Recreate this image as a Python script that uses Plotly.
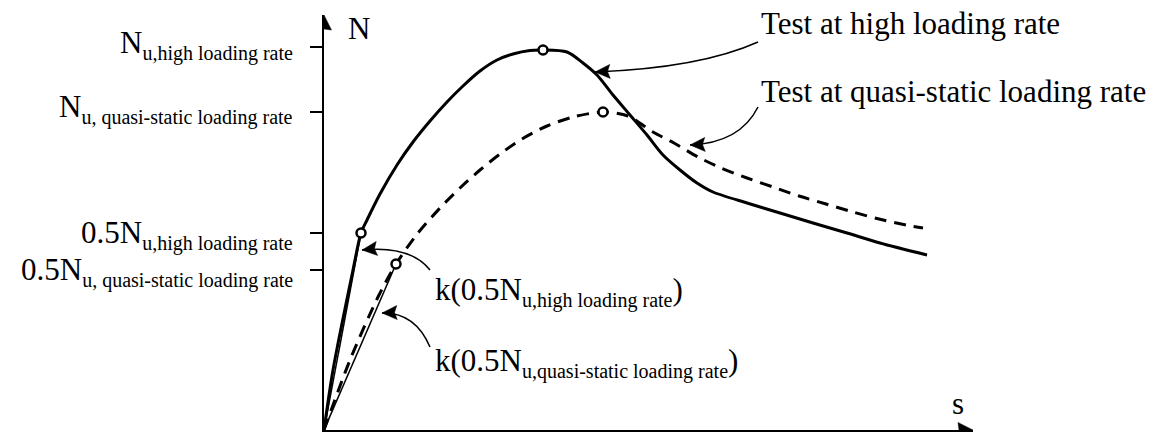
import math
import plotly.graph_objects as go

# ---- data (schematic units) ----
s_high = [0, 9, 29, 37, 43, 56, 73, 89, 106, 123, 139, 156, 173, 189, 206, 219, 243, 259, 273,
          289, 306, 323, 339, 356, 373, 389, 423, 456, 489, 523, 556, 603]
N_high = [0, 60, 160, 197, 210, 236, 265, 288, 309, 328, 344, 359, 370, 376, 379.5, 380, 378, 367, 355,
          335, 315, 295, 275, 260, 247, 238, 227, 217, 207, 197, 187, 175]

s_quasi = [0, 26, 54, 72, 94, 116, 136, 156, 176, 198, 223, 249, 279, 304, 329, 350, 374,
           397, 423, 449, 475, 502, 529, 555, 582, 599]
N_quasi = [0, 70, 133, 166, 197, 222, 242, 260, 276, 291, 304, 313, 318, 314, 298, 287, 273,
           262, 252, 243, 234, 226, 218, 211, 205, 202]

# key points (open circles)
key_s_high = [37, 219]
key_N_high = [197, 380]
key_s_quasi = [72, 279]
key_N_quasi = [166, 318]

# y-axis ticks
SUB = '<sub><span style="font-size:20px">{}</span></sub>'
tick_vals = [160, 197, 318, 383]
tick_text = [
    "0.5N" + SUB.format("u, quasi-static loading rate"),
    "0.5N" + SUB.format("u,high loading rate"),
    "N" + SUB.format("u, quasi-static loading rate"),
    "N" + SUB.format("u,high loading rate"),
]
tick_label_nudge = [-1.5, -1.5, 3, 2]   # small vertical nudges of the labels (px)

# axis extents
s_max = 649
N_max = 415

FONT = "Liberation Serif, Times New Roman, serif"
FS = 31

fig = go.Figure()

# secant (stiffness) lines
fig.add_trace(go.Scatter(x=[0, key_s_high[0]], y=[0, key_N_high[0]], mode="lines",
                         line=dict(color="black", width=1.5), cliponaxis=False, hoverinfo="skip"))
fig.add_trace(go.Scatter(x=[0, key_s_quasi[0]], y=[0, key_N_quasi[0]], mode="lines",
                         line=dict(color="black", width=1.5), cliponaxis=False, hoverinfo="skip"))

# curves
fig.add_trace(go.Scatter(x=s_high, y=N_high, mode="lines", line_shape="spline",
                         line=dict(color="black", width=3, smoothing=0.8), cliponaxis=False,
                         name="Test at high loading rate"))
fig.add_trace(go.Scatter(x=s_quasi, y=N_quasi, mode="lines", line_shape="spline",
                         line=dict(color="black", width=3, dash="12px,8px", smoothing=0.8),
                         cliponaxis=False, name="Test at quasi-static loading rate"))

# open circle markers
fig.add_trace(go.Scatter(x=key_s_high + key_s_quasi, y=key_N_high + key_N_quasi, mode="markers",
                         marker=dict(symbol="circle", size=9, color="white",
                                     line=dict(color="black", width=2.5)),
                         cliponaxis=False, hoverinfo="skip"))

annotations = []
shapes = []


def arrow_head(tip, direction, length=15, half_width=7, notch=2.5):
    """Filled arrowhead (1 data unit == 1 px on both axes)."""
    tx, ty = tip
    dx, dy = direction
    n = math.hypot(dx, dy)
    ux, uy = dx / n, dy / n
    vx, vy = -uy, ux
    bx, by = tx - length * ux, ty - length * uy
    nx, ny = tx - (length - notch) * ux, ty - (length - notch) * uy
    p1 = (bx + half_width * vx, by + half_width * vy)
    p2 = (bx - half_width * vx, by - half_width * vy)
    path = (f"M {tx},{ty} L {p1[0]:.2f},{p1[1]:.2f} L {nx:.2f},{ny:.2f} "
            f"L {p2[0]:.2f},{p2[1]:.2f} Z")
    shapes.append(dict(type="path", xref="x", yref="y", path=path,
                       fillcolor="black", line=dict(color="black", width=0.5)))


# axis arrowheads
arrow_head((0, N_max), (0, 1), length=15, half_width=7.5, notch=1)
arrow_head((s_max, 0), (1, 0), length=15, half_width=7.5, notch=1)

# curved pointer arrows: (start, control, tip)
pointers = [
    ((434, 388), (376, 362), (271, 358)),
    ((434, 323), (416, 287), (366, 285)),
    ((106, 160), (86, 185), (38, 180)),
    ((106, 83), (91, 118), (58, 117)),
]
for (x0, y0), (cx, cy), (x1, y1) in pointers:
    shapes.append(dict(type="path", xref="x", yref="y",
                       path=f"M {x0},{y0} Q {cx},{cy} {x1},{y1}",
                       line=dict(color="black", width=1.5)))
    arrow_head((x1, y1), (x1 - cx, y1 - cy))


# text labels
def label(x, y, text, xanchor="left", xref="x"):
    annotations.append(dict(x=x, y=y, xref=xref, yref="y", text=text, showarrow=False,
                            xanchor=xanchor, yanchor="middle",
                            font=dict(family=FONT, size=FS, color="black")))


# y tick labels (right aligned, left of the tick marks; paper x so they stay visible)
for v, t, dv in zip(tick_vals, tick_text, tick_label_nudge):
    label(-29 / s_max, v + dv, t, xanchor="right", xref="paper")

label(435, 407, "Test at high loading rate")
label(435, 339, "Test at quasi-static loading rate")
label(109, 138, "k(0.5N" + SUB.format("u,high loading rate") + ")")
label(109, 67, "k(0.5N" + SUB.format("u,quasi-static loading rate") + ")")
label(22, 402, "N")
label(634, 27, "s", xanchor="center")

fig.update_layout(
    width=1158, height=437,
    margin=dict(l=324, r=1158 - 324 - s_max, t=437 - 7 - N_max, b=7, pad=0),
    paper_bgcolor="white", plot_bgcolor="white",
    showlegend=False,
    font=dict(family=FONT, size=FS, color="black"),
    xaxis=dict(range=[0, s_max], showline=True, linecolor="black", linewidth=2,
               showgrid=False, zeroline=False, showticklabels=False, ticks="",
               automargin=False),
    yaxis=dict(range=[0, N_max], showline=True, linecolor="black", linewidth=2,
               showgrid=False, zeroline=False, ticks="outside", ticklen=12, tickwidth=2,
               tickcolor="black", tickvals=tick_vals, showticklabels=False,
               automargin=False),
    annotations=annotations,
    shapes=shapes,
)

fig.write_html("out.html", config={"displayModeBar": False},
               post_script="document.body.style.margin='0';")
